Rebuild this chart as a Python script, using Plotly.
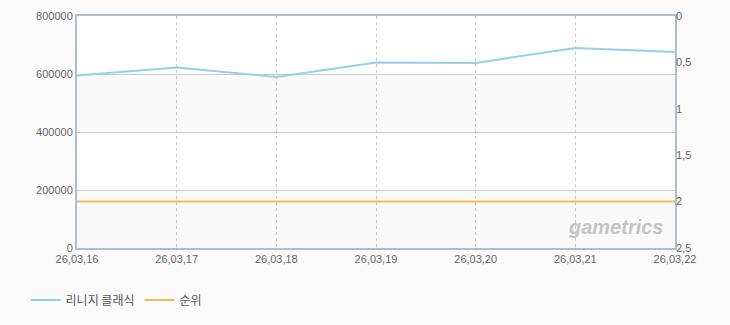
import plotly.graph_objects as go

dates = ["26,03,16", "26,03,17", "26,03,18", "26,03,19", "26,03,20", "26,03,21", "26,03,22"]
users = [595000, 622000, 590000, 640000, 638000, 690000, 676000]
rank = [2, 2, 2, 2, 2, 2, 2]
series_names = ["리니지 클래식", "순위"]
left_ticks = [0, 200000, 400000, 600000, 800000]
right_ticks = [0, 0.5, 1, 1.5, 2, 2.5]
right_ticktext = ["0", "0,5", "1", "1,5", "2", "2,5"]

xs = list(range(len(dates)))
font = dict(family="Liberation Sans, Noto Sans CJK KR", size=11, color="#666666")

fig = go.Figure()
fig.add_trace(go.Scatter(x=xs, y=users, name=series_names[0], mode="lines",
                         line=dict(color="#92d0ef", width=2), yaxis="y"))
fig.add_trace(go.Scatter(x=xs, y=rank, name=series_names[1], mode="lines",
                         line=dict(color="#f7b955", width=2), yaxis="y2"))

shapes = []
for lo, hi, col in [(0, 200000, "#fafafa"), (200000, 400000, "#ffffff"),
                    (400000, 600000, "#fafafa"), (600000, 800000, "#ffffff")]:
    shapes.append(dict(type="rect", xref="paper", yref="y", x0=0, x1=1, y0=lo, y1=hi,
                       fillcolor=col, line=dict(width=0), layer="below"))

fig.update_layout(
    width=730, height=325,
    margin=dict(l=77, r=55, t=16, b=77, autoexpand=False),
    paper_bgcolor="#fbfbfb",
    plot_bgcolor="#ffffff",
    font=font,
    shapes=shapes,
    showlegend=True,
    legend=dict(orientation="h", xref="container", yref="container",
                x=0.035, y=0.077, xanchor="left", yanchor="middle",
                font=dict(family="Noto Sans CJK KR", size=12, color="#555555"),
                bgcolor="rgba(0,0,0,0)", itemwidth=30),
    xaxis=dict(range=[0, len(dates) - 1], tickmode="array", tickvals=xs, ticktext=dates,
               showgrid=True, gridcolor="#c8c8c8", griddash="3px,3px", gridwidth=1,
               showline=True, linecolor="#abbfd3", linewidth=2, mirror=True,
               ticks="", zeroline=False, ticklen=0),
    yaxis=dict(range=[0, 800000], tickvals=left_ticks, ticktext=[str(v) for v in left_ticks],
               showgrid=True, gridcolor="#cccccc", gridwidth=1,
               showline=True, linecolor="#abbfd3", linewidth=2, mirror=True,
               zeroline=False, ticks=""),
    yaxis2=dict(range=[2.5, 0], overlaying="y", side="right", tickvals=right_ticks,
                ticktext=right_ticktext, showgrid=False, zeroline=False,
                showline=False, ticks=""),
    annotations=[dict(text="<b><i>gametrics</i></b>", xref="paper", yref="paper",
                      x=0.985, y=0.09, xanchor="right", yanchor="middle", showarrow=False,
                      font=dict(family="Liberation Sans", size=20, color="#c4c4c4"))],
)

fig.write_html("out.html")
